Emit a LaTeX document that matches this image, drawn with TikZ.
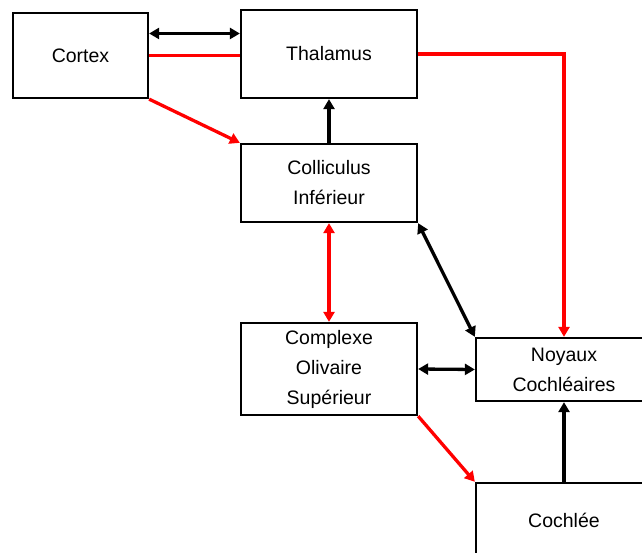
\documentclass[tikz,border=0pt]{standalone}
\usepackage{fontspec}
\setmainfont{Liberation Sans}
\usetikzlibrary{arrows.meta}
\begin{document}
\begin{tikzpicture}[x=1pt,y=-1pt,
  box/.style={draw=black,line width=2.3pt,fill=white,align=center,inner sep=0pt,
    font=\fontsize{19.5}{30}\selectfont},
  blk/.style={draw=black,line width=3.3pt},
  red/.style={draw={rgb,255:red,255;green,0;blue,0},line width=3.3pt},
  tip/.style={-{Triangle[length=10pt,width=11pt]}},
  tips/.style={{Triangle[length=10pt,width=11pt]}-{Triangle[length=10pt,width=11pt]}},
  ]
\useasboundingbox (0,0) rectangle (642,553);
\clip (0,0) rectangle (642,553);
\node[box,minimum width=135pt,minimum height=85pt] (cortex) at (80.5,55.5) {Cortex};
\node[box,minimum width=176pt,minimum height=88pt] (thal) at (329,54) {Thalamus};
\node[box,minimum width=176pt,minimum height=78pt] (coll) at (329,183) {Colliculus\\Inférieur};
\node[box,minimum width=176pt,minimum height=92pt] (comp) at (329,369) {Complexe\\Olivaire\\Supérieur};
\node[box,minimum width=176pt,minimum height=63pt] (noy) at (564,369.5) {Noyaux\\Cochléaires};
\node[box,minimum width=176pt,minimum height=74pt] (coch) at (564,520) {Cochlée};
% Cortex - Thalamus
\draw[blk,tips] ([yshift=22pt]cortex.east) -- ([yshift=22pt]thal.west |- cortex.east);
\draw[red] (cortex.east) -- (thal.west |- cortex.east);
\draw[red,tip] (cortex.south east) -- (coll.north west);
\draw[blk,tip] (coll.north) -- (thal.south);
\draw[red,tip] (thal.east) -| (noy.north);
\draw[red,tips] (coll.south) -- (comp.north);
\draw[blk,tips] (coll.south east) -- (noy.north west);
\draw[blk,tips] (comp.east) -- (noy.west);
\draw[red,tip] (comp.south east) -- (coch.north west);
\draw[blk,tip] (coch.north) -- (noy.south);
\end{tikzpicture}
\end{document}
